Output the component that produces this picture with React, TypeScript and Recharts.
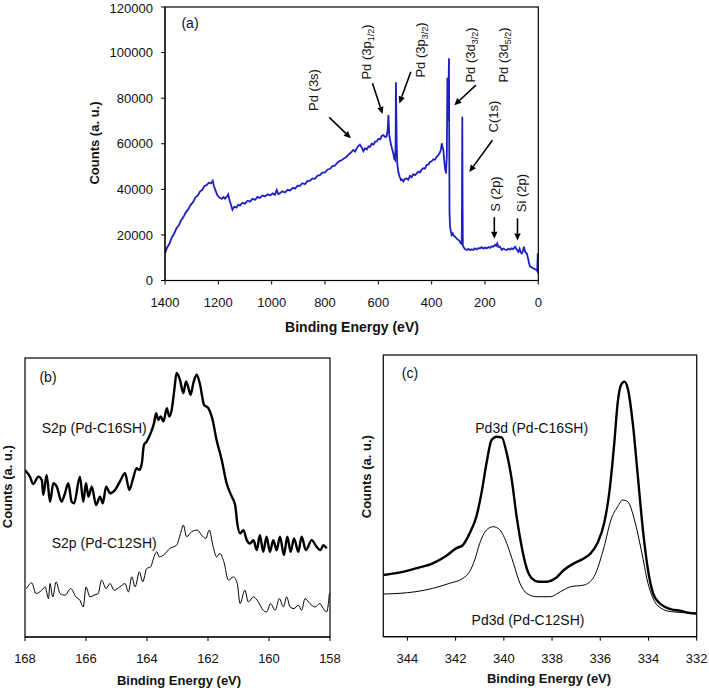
import React from "react";
import { LineChart, Line, XAxis, YAxis, ReferenceLine } from "recharts";

// XPS spectra: (a) survey scan, (b) S2p region, (c) Pd3d region.
// Values.

const surveyEnergy = [
  1400, 1392, 1383, 1375, 1366, 1357, 1348, 1340, 1331, 1322, 1313, 1304, 1294, 1285, 1277, 1269,
  1260, 1252, 1244, 1236, 1228, 1221, 1216, 1210, 1204, 1196, 1187, 1181, 1175, 1168, 1163, 1158,
  1152, 1147, 1140, 1132, 1125, 1119, 1110, 1100, 1090, 1081, 1072, 1062, 1053, 1044, 1035, 1025,
  1015, 1006, 996, 988, 981, 975, 969, 960, 950, 940, 931, 920, 912, 903, 894, 885, 875, 866, 856,
  847, 838, 828, 819, 810, 800, 790, 781, 772, 763, 754, 745, 735, 726, 719, 710, 702, 694, 687,
  680, 675, 669, 662, 656, 650, 643, 637, 631, 625, 618, 612, 606, 600, 593, 587, 581, 575, 569,
  565, 562, 559, 556, 550, 544, 540, 537, 535, 534, 533, 531, 529, 525, 520, 515, 512, 506, 500,
  494, 488, 481, 475, 469, 462, 456, 450, 444, 438, 431, 425, 419, 412, 406, 400, 394, 388, 381,
  375, 369, 365, 362, 359, 356, 353, 350, 346, 343, 341, 339, 337, 335, 334, 333, 331, 328, 325,
  321, 318, 312, 306, 300, 294, 291, 287, 286, 285, 284, 283, 281, 275, 268, 262, 256, 250, 244,
  238, 231, 225, 219, 212, 206, 200, 194, 187, 181, 175, 169, 162, 158, 154, 150, 144, 137, 131,
  125, 119, 112, 106, 100, 94, 87, 81, 75, 70, 66, 62, 58, 54, 50, 46, 43, 39, 35, 31, 25, 19, 13,
  6, 4, 2, 0,
];
const surveyCounts = [
  12000, 14500, 16200, 18800, 20500, 22900, 24200, 26300, 27800, 29900, 31200, 33100, 34500, 36600,
  37200, 39000, 39800, 41500, 41800, 42900, 42600, 43800, 41200, 39300, 37500, 36400, 35800, 36600,
  35900, 36900, 37800, 35200, 33000, 31000, 32400, 32000, 33300, 32900, 34100, 33700, 35000, 34600,
  35800, 35400, 36700, 36200, 37300, 36900, 37800, 37300, 38200, 37600, 39700, 37900, 38300, 39100,
  38600, 39800, 39500, 40700, 40300, 41600, 41500, 42700, 42300, 43600, 43800, 44800, 44600, 46000,
  46200, 47300, 47400, 48700, 49000, 50200, 50400, 51600, 52400, 53000, 53800, 54300, 55400, 56200,
  57300, 56600, 58200, 59000, 59600, 58300, 56700, 58000, 57500, 58800, 58700, 60000, 59600, 60900,
  61000, 62100, 62000, 63400, 63800, 63000, 63200, 66000, 72600, 64000, 61600, 58500, 55800, 53400,
  52900, 60000, 87000, 78000, 60000, 51400, 47700, 45500, 44100, 44400, 43500, 44600, 44800, 44200,
  45900, 45300, 46600, 46200, 47000, 47800, 47400, 48600, 49300, 49100, 50700, 50900, 52000, 52300,
  53100, 53000, 54300, 55000, 56200, 57500, 60200, 58500, 57300, 53000, 49200, 47000, 55000, 89000,
  70000, 82000, 97500, 60000, 30000, 23600, 21600, 20000, 20700, 19800, 19200, 18400, 17800, 17200,
  16300, 16000, 40000, 71900, 35000, 15500, 14800, 13800, 13400, 13900, 13300, 13700, 13400, 14100,
  13600, 14200, 14100, 14600, 14000, 14500, 14100, 14700, 14300, 15000, 14800, 15600, 15200, 16300,
  14700, 14900, 13400, 14000, 13600, 13400, 13900, 13500, 14100, 13800, 14800, 13600, 12600, 14000,
  12400, 11900, 12800, 14800, 12900, 12000, 11900, 10000, 7800, 6100, 5800, 5400, 5000, 4600, 4200,
  11900, 9000,
];
const surveyTicksX = [0, 200, 400, 600, 800, 1000, 1200, 1400];
const surveyTicksY = [0, 20000, 40000, 60000, 80000, 100000, 120000];

// annotation arrows of panel (a), in eV / counts
const surveyArrows = [
  { from: [784, 71600], to: [703, 62400] },
  { from: [622, 86500], to: [584, 73100] },
  { from: [478, 91600], to: [521, 77700] },
  { from: [234, 85700], to: [315, 76900] },
  { from: [172, 61500], to: [259, 47600] },
  { from: [165, 27800], to: [165, 18300] },
  { from: [78, 27300], to: [78, 17600] },
];

const s2pC16Energy = [
  168.0, 167.84, 167.73, 167.56, 167.45, 167.4, 167.29, 167.18, 167.07, 166.96, 166.8, 166.69,
  166.58, 166.47, 166.39, 166.2, 166.09, 166.0, 165.92, 165.81, 165.67, 165.54, 165.45, 165.34,
  165.21, 165.05, 164.89, 164.72, 164.58, 164.47, 164.34, 164.25, 164.17, 164.1, 164.01, 163.88,
  163.77, 163.7, 163.63, 163.55, 163.46, 163.35, 163.27, 163.19, 163.11, 163.03, 162.92, 162.81,
  162.72, 162.64, 162.57, 162.48, 162.37, 162.26, 162.13, 161.99, 161.85, 161.72, 161.55, 161.39,
  161.22, 161.11, 161.04, 160.95, 160.84, 160.73, 160.62, 160.51, 160.4, 160.3, 160.19, 160.08,
  159.97, 159.86, 159.75, 159.64, 159.51, 159.4, 159.29, 159.18, 159.04, 158.93, 158.79, 158.6,
  158.44, 158.31, 158.22, 158.11,
];
const s2pC16Counts = [
  500, 480, 458, 480, 470, 425, 485, 405, 460, 450, 405, 430, 460, 405, 400, 480, 405, 460, 420, 450,
  395, 420, 400, 450, 430, 440, 465, 490, 440, 470, 505, 500, 520, 575, 585, 610, 640, 670, 650, 660,
  645, 685, 660, 680, 735, 790, 770, 730, 765, 745, 725, 760, 785, 755, 695, 685, 650, 590, 530, 460,
  420, 395, 340, 310, 320, 290, 280, 290, 260, 305, 255, 300, 255, 290, 260, 300, 245, 300, 255, 295,
  255, 300, 260, 290, 270, 260, 275, 265,
];
const s2pC12Energy = [
  167.95, 167.78, 167.64, 167.45, 167.34, 167.23, 167.18, 167.09, 166.98, 166.85, 166.69, 166.5,
  166.33, 166.2, 166.09, 166.0, 165.87, 165.74, 165.6, 165.49, 165.34, 165.21, 165.08, 164.89,
  164.72, 164.61, 164.5, 164.39, 164.25, 164.14, 164.01, 163.88, 163.77, 163.68, 163.6, 163.46,
  163.25, 163.03, 162.9, 162.81, 162.7, 162.54, 162.35, 162.21, 162.07, 161.96, 161.83, 161.72,
  161.61, 161.48, 161.33, 161.17, 161.04, 160.95, 160.79, 160.68, 160.51, 160.35, 160.19, 160.08,
  159.95, 159.8, 159.66, 159.53, 159.42, 159.31, 159.18, 159.04, 158.93, 158.82, 158.66, 158.49,
  158.33, 158.22, 158.11, 158.02,
];
const s2pC12Counts = [
  145, 162, 130, 140, 150, 115, 160, 120, 165, 130, 125, 145, 120, 110, 90, 150, 120, 125, 130, 170,
  145, 160, 140, 150, 160, 135, 180, 150, 195, 165, 205, 210, 240, 255, 240, 245, 265, 275, 310, 335,
  300, 315, 320, 305, 295, 320, 270, 240, 250, 225, 170, 180, 160, 100, 140, 105, 120, 105, 80, 75,
  100, 80, 115, 90, 120, 90, 85, 95, 80, 115, 100, 90, 100, 85, 75, 130,
];
const s2pTicks = [158, 160, 162, 164, 166, 168];

const pd3dC16Energy = [
  345.0, 344.35, 343.65, 342.95, 342.4, 341.98, 341.7, 341.42, 341.14, 340.93, 340.72, 340.51, 340.3,
  340.09, 339.88, 339.67, 339.47, 339.26, 339.05, 338.84, 338.56, 338.21, 337.86, 337.51, 337.09,
  336.67, 336.4, 336.12, 335.84, 335.63, 335.42, 335.28, 335.14, 335.0, 334.86, 334.65, 334.44,
  334.23, 334.02, 333.81, 333.6, 333.33, 333.05, 332.7, 332.35, 332.0,
];
const pd3dC16Counts = [
  185, 192, 205, 220, 242, 265, 275, 310, 360, 430, 520, 590, 600, 598, 550, 470, 360, 270, 205, 175,
  165, 165, 175, 200, 220, 235, 250, 280, 340, 430, 580, 700, 755, 765, 745, 640, 480, 320, 200, 130,
  105, 90, 82, 78, 72, 70,
];
const pd3dC12Energy = [
  345.0, 344.35, 343.65, 342.95, 342.26, 341.7, 341.42, 341.21, 341.0, 340.72, 340.44, 340.16, 339.88,
  339.6, 339.33, 339.05, 338.63, 338.07, 337.65, 337.23, 336.67, 336.26, 335.84, 335.56, 335.28,
  335.07, 334.86, 334.58, 334.3, 334.02, 333.74, 333.47, 333.05, 332.49, 332.0,
];
const pd3dC12Counts = [
  128, 130, 135, 145, 160, 175, 195, 230, 280, 320, 330, 320, 280, 220, 160, 130, 120, 120, 135, 150,
  155, 180, 270, 350, 390, 410, 405, 350, 260, 160, 105, 85, 75, 72, 68,
];
const pd3dTicks = [332, 334, 336, 338, 340, 342, 344];

const font = "'Liberation Sans', Arial, sans-serif";
const tick = { fontSize: 13, fill: "#111", fontFamily: font };
const blue = "#1f1fc4";

const zip = (xs: number[], ys: number[]) => xs.map((e, i) => ({ e, c: ys[i] }));

function Arrow(props: any) {
  const { x1, y1, x2, y2 } = props;
  const a = Math.atan2(y2 - y1, x2 - x1);
  const len = 7;
  const w = 3.2;
  const bx = x2 - len * Math.cos(a);
  const by = y2 - len * Math.sin(a);
  const px = -Math.sin(a) * w;
  const py = Math.cos(a) * w;
  return (
    <g>
      <line x1={x1} y1={y1} x2={bx} y2={by} stroke="#000" strokeWidth={1.6} />
      <polygon points={`${x2},${y2} ${bx + px},${by + py} ${bx - px},${by - py}`} fill="#000" />
    </g>
  );
}

function VText({ x, y, children, size = 13 }: any) {
  return (
    <text
      x={x}
      y={y}
      transform={`rotate(-90 ${x} ${y})`}
      textAnchor="middle"
      dy="0.35em"
      fontSize={size}
      fontFamily={font}
      fill="#111"
    >
      {children}
    </text>
  );
}

function Sub({ children }: any) {
  return (
    <>
      <tspan fontSize={9} dy={3}>
        {children}
      </tspan>
      <tspan dy={-3}>)</tspan>
    </>
  );
}

function Text({ x, y, children, size = 14, anchor = "middle", bold = false }: any) {
  return (
    <text
      x={x}
      y={y}
      dy="0.35em"
      textAnchor={anchor}
      fontSize={size}
      fontFamily={font}
      fontWeight={bold ? "bold" : "normal"}
      fill="#111"
    >
      {children}
    </text>
  );
}

export default function App() {
  const survey = zip(surveyEnergy, surveyCounts);
  return (
    <div style={{ position: "absolute", left: 0, top: 0, width: 709, height: 690, background: "#fff" }}>
      <div style={{ position: "absolute", left: 0, top: 0 }}>
        <LineChart width={560} height={340} data={survey} margin={{ top: 7, right: 21.7, bottom: 0, left: 0 }}>
          <XAxis
            dataKey="e"
            type="number"
            domain={[0, 1400]}
            reversed
            ticks={surveyTicksX}
            allowDataOverflow
            height={59.5}
            tick={tick}
            tickSize={4}
            tickMargin={13}
            stroke="#000"
          />
          <YAxis
            type="number"
            domain={[0, 120000]}
            ticks={surveyTicksY}
            allowDataOverflow
            width={165}
            tick={tick}
            tickSize={4}
            tickMargin={8}
            stroke="#000"
          />
          <Line dataKey="c" type="linear" stroke={blue} strokeWidth={1.8} dot={false} isAnimationActive={false} />
          {surveyArrows.map((a, i) => (
            <ReferenceLine
              key={i}
              segment={[
                { x: a.from[0], y: a.from[1] },
                { x: a.to[0], y: a.to[1] },
              ]}
              shape={Arrow}
              ifOverflow="visible"
            />
          ))}
        </LineChart>
      </div>

      <div style={{ position: "absolute", left: 0, top: 330 }}>
        <LineChart width={345} height={360} margin={{ top: 28, right: 15, bottom: 0, left: 25 }}>
          <XAxis
            dataKey="e"
            type="number"
            domain={[158, 168]}
            reversed
            ticks={s2pTicks}
            allowDataOverflow
            height={53}
            tick={tick}
            tickSize={4}
            tickMargin={13}
            stroke="#000"
          />
          <YAxis hide type="number" domain={[0, 835]} allowDataOverflow />
          <Line data={zip(s2pC16Energy, s2pC16Counts)} dataKey="c" type="monotone" stroke="#000" strokeWidth={2.4} dot={false} isAnimationActive={false} />
          <Line data={zip(s2pC12Energy, s2pC12Counts)} dataKey="c" type="monotone" stroke="#000" strokeWidth={1} dot={false} isAnimationActive={false} />
        </LineChart>
      </div>

      <div style={{ position: "absolute", left: 350, top: 330 }}>
        <LineChart width={359} height={360} margin={{ top: 25, right: 12.3, bottom: 0, left: 33.3 }}>
          <XAxis
            dataKey="e"
            type="number"
            domain={[332, 345]}
            reversed
            ticks={pd3dTicks}
            allowDataOverflow
            height={53.3}
            tick={tick}
            tickSize={4}
            tickMargin={13}
            stroke="#000"
          />
          <YAxis hide type="number" domain={[0, 845]} allowDataOverflow />
          <Line data={zip(pd3dC16Energy, pd3dC16Counts)} dataKey="c" type="monotone" stroke="#000" strokeWidth={2.4} dot={false} isAnimationActive={false} />
          <Line data={zip(pd3dC12Energy, pd3dC12Counts)} dataKey="c" type="monotone" stroke="#000" strokeWidth={1} dot={false} isAnimationActive={false} />
        </LineChart>
      </div>

      <svg width={709} height={690} style={{ position: "absolute", left: 0, top: 0, pointerEvents: "none" }}>
        <rect x={165} y={7} width={373.3} height={273.5} fill="none" stroke="#000" strokeWidth={1.2} />
        <rect x={25} y={358} width={305} height={279} fill="none" stroke="#000" strokeWidth={1.2} />
        <rect x={383.3} y={355} width={313.4} height={281.7} fill="none" stroke="#000" strokeWidth={1.2} />

        <Text x={190} y={23}>(a)</Text>
        <VText x={313} y={90}>Pd (3s)</VText>
        <VText x={366.7} y={52}>Pd (3p<Sub>1/2</Sub></VText>
        <VText x={420} y={50}>Pd (3p<Sub>3/2</Sub></VText>
        <VText x={470} y={55}>Pd (3d<Sub>3/2</Sub></VText>
        <VText x={503.3} y={55}>Pd (3d<Sub>5/2</Sub></VText>
        <VText x={493.3} y={116.5}>C(1s)</VText>
        <VText x={495} y={194}>S (2p)</VText>
        <VText x={521.7} y={193}>Si (2p)</VText>
        <VText x={94} y={143} size={13}>
          <tspan fontWeight="bold">Counts (a. u.)</tspan>
        </VText>
        <Text x={352} y={326.7} size={14} bold>Binding Energy (eV)</Text>

        <Text x={48} y={376.7}>(b)</Text>
        <Text x={41.7} y={428} anchor="start">S2p (Pd-C16SH)</Text>
        <Text x={51.7} y={543.3} anchor="start">S2p (Pd-C12SH)</Text>
        <VText x={7} y={486.7}>
          <tspan fontWeight="bold">Counts (a. u.)</tspan>
        </VText>
        <Text x={179} y={680} size={13} bold>Binding Energy (eV)</Text>

        <Text x={410} y={373}>(c)</Text>
        <Text x={531.7} y={428}>Pd3d (Pd-C16SH)</Text>
        <Text x={528} y={620}>Pd3d (Pd-C12SH)</Text>
        <VText x={366.7} y={476.7}>
          <tspan fontWeight="bold">Counts (a. u.)</tspan>
        </VText>
        <Text x={549} y={678} size={13} bold>Binding Energy (eV)</Text>
      </svg>
    </div>
  );
}
